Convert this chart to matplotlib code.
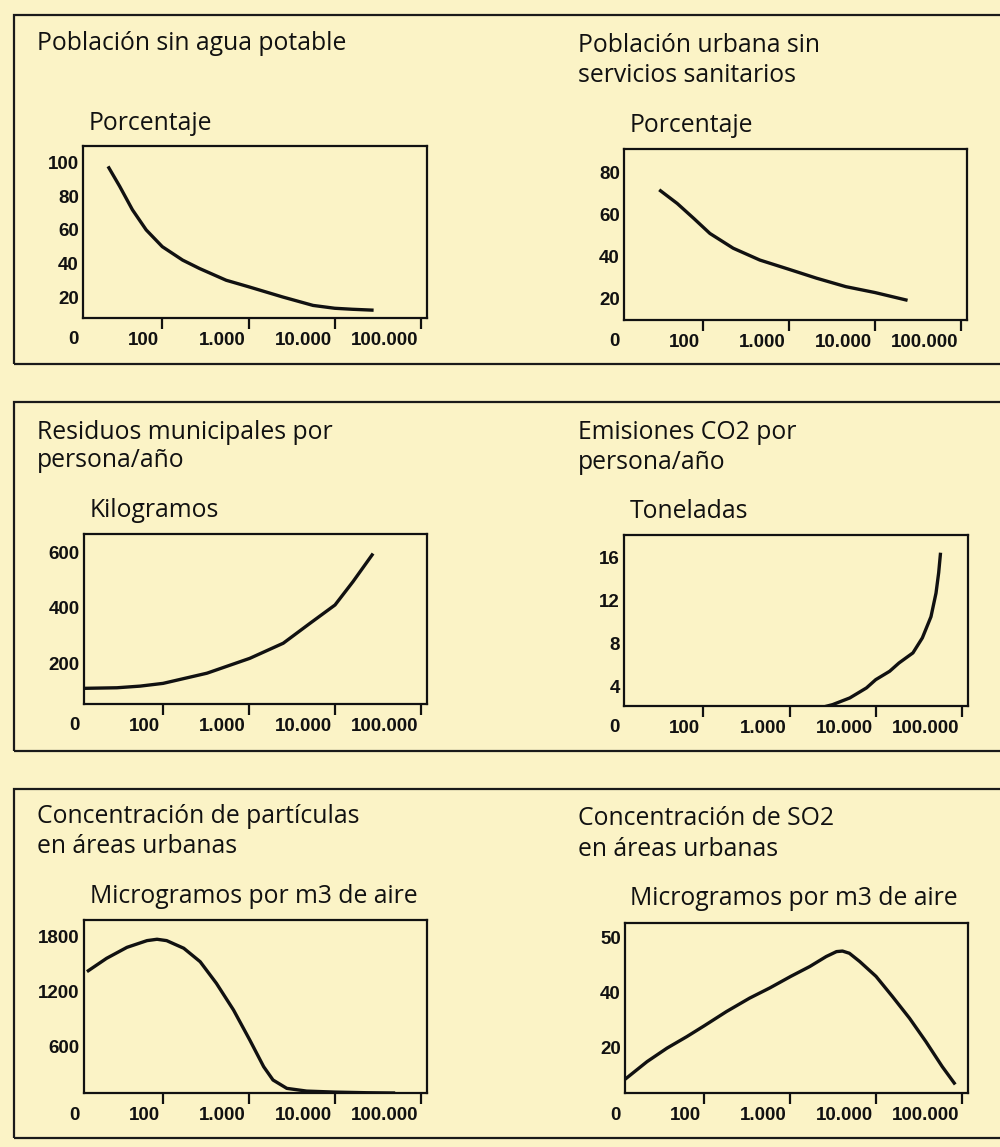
import numpy as np
import matplotlib.pyplot as plt
from matplotlib.patches import Rectangle
from matplotlib.transforms import ScaledTranslation

# tamaño en píxeles de la figura
W, H = 1000, 1147
BG = '#FBF3C6'

# eje x común (población, escala logarítmica)
x_ticks = [100, 1000, 10000, 100000]
x_ticklabels = ['100', '1.000', '10.000', '100.000']

# Población sin agua potable (porcentaje)
x_agua = [24, 32, 45, 65, 100, 172, 270, 550, 1020, 2500, 5600, 10000, 16000, 27000]
y_agua = [97, 86, 72, 60, 50, 42, 37, 30, 26, 20, 15, 13.3, 12.7, 12.2]

# Población urbana sin servicios sanitarios (porcentaje)
x_sanea = [32, 50, 78, 120, 224, 457, 1000, 2090, 4570, 10000, 22900]
y_sanea = [71.2, 65.2, 58.1, 51.0, 44.0, 38.4, 34.0, 29.8, 25.8, 23.0, 19.5]

# Residuos municipales (kg por persona/año)
x_resid = [12.4, 29, 54, 100, 324, 1020, 2500, 5100, 10000, 16200, 27000]
y_resid = [108, 110, 116, 126, 163, 217, 272, 344, 411, 496, 593]

# Emisiones CO2 (toneladas por persona/año)
x_co2 = [2040, 3160, 5000, 7800, 10000, 14500, 18600, 27000, 34700, 43700, 50000, 53700, 56200]
y_co2 = [1.93, 2.33, 2.95, 3.88, 4.65, 5.43, 6.2, 7.14, 8.53, 10.5, 12.7, 14.6, 16.3]

# Concentración de partículas (microgramos por m3)
x_part = [13.5, 22, 38, 65, 85, 110, 174, 270, 417, 660, 1020, 1480, 1900, 2750,
          4680, 10000, 23400, 47900]
y_part = [1429, 1565, 1686, 1760, 1775, 1760, 1676, 1528, 1290, 996, 666, 372, 226,
          134, 104, 93, 86, 83]

# Concentración de SO2 (microgramos por m3)
x_so2 = [12.5, 21.7, 37, 63, 100, 182, 339, 582, 1020, 1700, 2630, 3470, 4070, 4900,
         6460, 10000, 15500, 24500, 38000, 58900, 81300]
y_so2 = [9.0, 15.0, 19.9, 24.1, 28.0, 33.2, 38.1, 40.9, 43.0, 44.8, 46.6, 47.5, 47.6,
         47.2, 45.7, 43.0, 38.7, 30.8, 22.3, 13.2, 7.2]

titles = [['Población sin agua potable'],
          ['Población urbana sin', 'servicios sanitarios'],
          ['Residuos municipales por', 'persona/año'],
          ['Emisiones CO2 por', 'persona/año'],
          ['Concentración de partículas', 'en áreas urbanas'],
          ['Concentración de SO2', 'en áreas urbanas']]
units = ['Porcentaje', 'Porcentaje', 'Kilogramos', 'Toneladas',
         'Microgramos por m3 de aire', 'Microgramos por m3 de aire']
yticks = [[20, 40, 60, 80, 100], [20, 40, 60, 80], [200, 400, 600],
          [4, 8, 12, 16], [600, 1200, 1800], [20, 40, 50]]
series = [(x_agua, y_agua), (x_sanea, y_sanea), (x_resid, y_resid),
          (x_co2, y_co2), (x_part, y_part), (x_so2, y_so2)]

# posiciones (px): caja de ejes (x0, y0, x1, y1), límites y, título, unidad
boxes = [(83, 146, 427, 318), (624, 149, 967, 320), (84, 534, 427, 704),
         (624, 535, 968, 706), (84, 920, 427, 1093), (625, 923, 968, 1093)]
ylims = [(7.5, 110), (10, 91), (51, 669), (2.2, 18.1), (83, 1987), (3.6, 52.7)]
title_pos = [(37, [50]), (578, [52, 82]), (37, [439, 467]), (578, [439, 469]),
             (37, [823, 853]), (578, [825, 856])]
unit_pos = [(89, 130), (630, 132), (90, 517), (630, 518), (90, 903), (630, 905)]
panels = [(14, 15, 364), (14, 402, 751), (14, 789, 1138)]

TXT = ['Open Sans', 'DejaVu Sans']
NUM = ['Liberation Sans', 'DejaVu Sans']
FS_TXT = 17.8
FS_NUM = 13.5

fig = plt.figure(figsize=(W / 100, H / 100), dpi=100, facecolor=BG)

# marcos de cada fila (sin borde derecho)
for x0, y0, y1 in panels:
    fig.patches.append(Rectangle((x0 / W, 1 - y1 / H), 1.2, (y1 - y0) / H,
                                 transform=fig.transFigure, fill=False,
                                 edgecolor='#1a1a1a', linewidth=1.6))


# escala del eje y del SO2: las marcas 20, 40, 50 están equiespaciadas
def so2_fwd(v):
    v = np.asarray(v, dtype=float)
    return np.where(v <= 40, (v - 20) / 20, 1 + (v - 40) / 10)


def so2_inv(p):
    p = np.asarray(p, dtype=float)
    return np.where(p <= 1, 20 + 20 * p, 40 + 10 * (p - 1))


shift = ScaledTranslation(-3 / 100, 0, fig.dpi_scale_trans)

for i in range(6):
    x0, y0, x1, y1 = boxes[i]
    ax = fig.add_axes([x0 / W, 1 - y1 / H, (x1 - x0) / W, (y1 - y0) / H])
    ax.set_facecolor(BG)
    xs, ys = series[i]
    ax.plot(xs, ys, color='#111111', lw=2.4, solid_joinstyle='round')
    ax.set_xscale('log')
    if i == 5:
        ax.set_yscale('function', functions=(so2_fwd, so2_inv))
    ax.set_xlim(10 ** 1.08, 10 ** 5.07)
    ax.set_ylim(*ylims[i])
    ax.set_xticks(x_ticks)
    ax.set_xticklabels(x_ticklabels)
    ax.minorticks_off()
    ax.set_yticks(yticks[i])
    ax.set_yticklabels([str(t) for t in yticks[i]])
    ax.tick_params(axis='x', length=8, width=1.6, direction='out', pad=2,
                   colors='#111111', labelsize=FS_NUM)
    ax.tick_params(axis='y', length=0, pad=3, colors='#111111', labelsize=FS_NUM)
    for lab in ax.get_xticklabels():
        lab.set_ha('right')
        lab.set_transform(lab.get_transform() + shift)
        lab.set_family(NUM)
        lab.set_weight('bold')
    for lab in ax.get_yticklabels():
        lab.set_family(NUM)
        lab.set_weight('bold')
    for s in ax.spines.values():
        s.set_linewidth(1.6)
        s.set_color('#111111')
    # el "0" del eje x, a la izquierda del eje
    ax.annotate('0', xy=(0, 0), xycoords='axes fraction', xytext=(-10, -22),
                textcoords='offset pixels', ha='center', va='center',
                fontsize=FS_NUM, fontweight='bold', family=NUM, color='#111111')

    tx, tys = title_pos[i]
    for line, ty in zip(titles[i], tys):
        fig.text(tx / W, 1 - ty / H, line, fontsize=FS_TXT, family=TXT,
                 va='baseline', ha='left', color='#111111')
    ux, uy = unit_pos[i]
    fig.text(ux / W, 1 - uy / H, units[i], fontsize=FS_TXT, family=TXT,
             va='baseline', ha='left', color='#111111')

fig.savefig('out.png', dpi=100, facecolor=BG)
